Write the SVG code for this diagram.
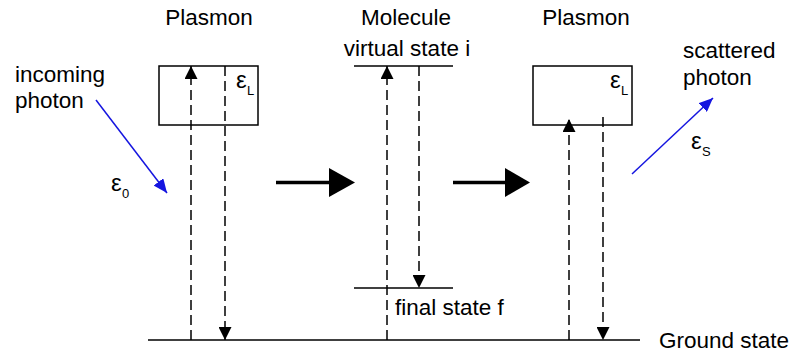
<svg xmlns="http://www.w3.org/2000/svg" width="792" height="356" viewBox="0 0 792 356">
<style>
text{font-family:"Liberation Sans",Arial,sans-serif;fill:#000}
.t{font-size:22.5px}
.e{font-size:24px}
.s{font-size:13px}
.lvl{stroke:#000;stroke-width:1.5;fill:none}
.box{stroke:#000;stroke-width:1.5;fill:#fff}
.dash{stroke:#000;stroke-width:1.5;stroke-dasharray:10,5;fill:none}
.big{stroke:#000;stroke-width:3.5}
.blue{stroke:#1515e0;stroke-width:1.5}
</style>
<defs>
<marker id="ah" markerUnits="userSpaceOnUse" markerWidth="13" markerHeight="13" viewBox="0 0 13 13" refX="13" refY="6.5" orient="auto"><path d="M0,0 L13,6.5 L0,13 z" fill="#000"/></marker>
<marker id="bh" markerUnits="userSpaceOnUse" markerWidth="14" markerHeight="12" viewBox="0 0 14 12" refX="14" refY="6" orient="auto"><path d="M0,0 L14,6 L0,12 z" fill="#1515e0"/></marker>
</defs>
<g id="ground">
<line class="lvl" x1="148" y1="340" x2="640" y2="340"/>
<text class="t" x="659" y="348">Ground state</text>
</g>
<g id="plasmon-left">
<text class="t" x="209" y="25" text-anchor="middle">Plasmon</text>
<rect class="box" x="159" y="66" width="99" height="59"/>
<text class="e" x="236" y="88">ε</text><text class="s" x="247" y="95">L</text>
</g>
<g id="molecule">
<text class="t" x="406" y="25" text-anchor="middle">Molecule</text>
<text class="t" x="407" y="56" text-anchor="middle">virtual state i</text>
<line class="lvl" x1="354" y1="66" x2="453" y2="66"/>
<line class="lvl" x1="354" y1="288" x2="453" y2="288"/>
<text class="t" x="395" y="315">final state f</text>
</g>
<g id="plasmon-right">
<text class="t" x="586" y="25" text-anchor="middle">Plasmon</text>
<rect class="box" x="533" y="66" width="99" height="59"/>
<text class="e" x="610" y="88">ε</text><text class="s" x="621" y="95">L</text>
</g>
<g id="incoming">
<text class="t" x="15" y="82">incoming</text>
<text class="t" x="15" y="108">photon</text>
<text class="e" x="111" y="191">ε</text><text class="s" x="122" y="198">0</text>
</g>
<g id="scattered">
<text class="t" x="683" y="58">scattered</text>
<text class="t" x="683" y="85">photon</text>
<text class="e" x="691" y="149">ε</text><text class="s" x="702" y="156">S</text>
</g>
<g id="connectors">
<line class="dash" x1="191" y1="340" x2="191" y2="66" marker-end="url(#ah)"/>
<line class="dash" x1="225" y1="66" x2="225" y2="340" marker-end="url(#ah)"/>
<line class="dash" x1="387" y1="340" x2="387" y2="66" marker-end="url(#ah)"/>
<line class="dash" x1="419" y1="66" x2="419" y2="288" marker-end="url(#ah)"/>
<line class="dash" x1="569" y1="340" x2="569" y2="119" marker-end="url(#ah)"/>
<line class="dash" x1="603" y1="117" x2="603" y2="340" marker-end="url(#ah)"/>
<line class="big" x1="276" y1="182.5" x2="331" y2="182.5"/>
<polygon points="329,168 355,182.5 329,197" fill="#000"/>
<line class="big" x1="453" y1="182.5" x2="507" y2="182.5"/>
<polygon points="505,168 530,182.5 505,197" fill="#000"/>
<line class="blue" x1="96" y1="100" x2="167" y2="193" marker-end="url(#bh)"/>
<line class="blue" x1="632" y1="174" x2="713" y2="98" marker-end="url(#bh)"/>
</g>
</svg>
